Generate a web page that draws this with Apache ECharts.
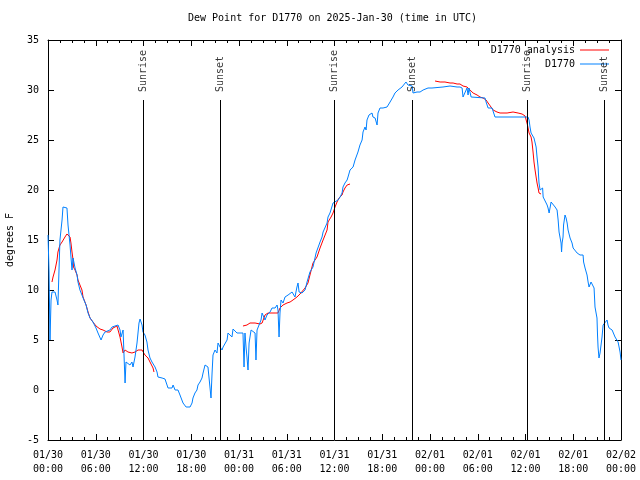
<!DOCTYPE html>
<html><head><meta charset="utf-8">
<script src="https://cdn.jsdelivr.net/npm/echarts@6/dist/echarts.min.js"></script>
<style>html,body{margin:0;padding:0;background:#fff}#c{width:640px;height:480px}</style>
</head><body><div id="c"></div>
<script>
// time axis in minutes since 2025-01-30 00:00 UTC
const xTickLabels = ['01/30\n00:00','01/30\n06:00','01/30\n12:00','01/30\n18:00','01/31\n00:00','01/31\n06:00','01/31\n12:00','01/31\n18:00','02/01\n00:00','02/01\n06:00','02/01\n12:00','02/01\n18:00','02/02\n00:00'];
const sunEvents = [[716,'Sunrise'],[1297,'Sunset'],[2156,'Sunrise'],[2745,'Sunset'],[3612,'Sunrise'],[4192,'Sunset']];

// D1770 observed dew point [minute, degF]
const obsDay1 = [[0,15.5],[8,11.8],[15,5.0],[23,9.0],[30,9.8],[53,9.8],[68,9.0],[75,8.5],[83,12.0],[90,15.0],[106,17.0],[113,18.3],[128,18.5],[143,18.2],[151,16.5],[166,14.5],[181,12.0],[189,13.2],[204,12.2],[219,11.5],[226,10.8],[241,10.0],[256,9.5],[271,9.0],[287,8.5],[302,7.7],[317,7.2],[339,6.8],[362,6.2],[377,5.7],[392,5.8],[400,5.0],[415,5.5],[430,5.8],[445,5.8],[467,6.0],[483,6.3],[505,6.4],[528,6.5],[543,6.0],[550,5.3],[566,6.0],[581,0.7],[588,2.8],[603,2.7],[618,2.5],[633,2.8],[641,2.3],[656,3.3],[671,4.7],[686,6.7],[694,7.1],[709,6.5],[716,5.8],[731,5.5],[746,4.8],[754,4.0],[769,3.2],[784,2.8],[792,3.0],[807,2.3],[822,1.8],[829,1.3],[844,1.2],[860,1.2],[882,1.1],[897,1.0],[905,0.2],[935,0.2],[943,0.5],[958,0.0],[980,0.0],[995,-0.5],[1018,-1.3],[1041,-1.7],[1056,-1.8],[1071,-1.7],[1086,-1.3],[1093,-0.8],[1108,-0.3],[1123,0.0],[1131,0.5],[1146,0.8],[1161,1.2],[1169,1.7],[1184,2.5],[1199,2.7],[1206,2.3],[1221,0.3],[1229,-0.8],[1237,1.7],[1244,3.5],[1259,4.0],[1274,3.7],[1282,4.7],[1297,4.3],[1312,4.0],[1320,4.3],[1335,4.5],[1350,5.0],[1357,5.7],[1372,5.8],[1387,5.3],[1395,6.1],[1410,6.2],[1425,5.7]];
const obsDay2 = [[1448,5.7],[1470,5.7],[1474,4.0],[1478,2.3],[1485,5.7],[1493,4.3],[1500,3.3],[1508,2.0],[1516,4.7],[1531,6.0],[1546,6.1],[1561,5.7],[1568,3.0],[1576,6.0],[1591,6.2],[1606,7.0],[1614,7.7],[1621,7.5],[1636,7.0],[1651,7.5],[1659,7.7],[1674,7.8],[1689,8.2],[1697,8.3],[1712,8.2],[1727,8.5],[1734,8.0],[1742,5.3],[1749,7.7],[1757,9.0],[1772,8.7],[1787,9.3],[1802,9.2],[1810,9.5],[1825,9.3],[1840,9.8],[1847,9.7],[1862,9.3],[1877,10.3],[1885,10.7],[1893,9.8],[1915,9.7],[1938,10.0],[1953,10.8],[1975,11.8],[1998,12.3],[2021,13.7],[2036,13.8],[2051,14.8],[2066,15.3],[2074,15.8],[2089,16.0],[2104,16.7],[2111,17.3],[2126,17.7],[2149,18.7],[2164,18.8],[2187,19.0],[2202,19.3],[2217,19.7],[2224,20.3],[2239,20.7],[2255,21.0],[2262,21.3],[2277,22.0],[2300,22.3],[2315,23.0],[2337,23.8],[2352,24.5],[2368,25.0],[2375,25.8],[2390,26.3],[2398,26.0],[2405,27.0],[2420,27.5],[2443,27.7],[2450,27.3],[2466,27.2],[2481,26.5],[2488,27.7],[2503,28.2],[2518,28.0],[2526,28.2],[2556,28.3],[2564,28.5],[2579,28.8],[2594,29.0],[2601,29.3],[2616,29.7],[2631,29.8],[2639,30.0],[2654,30.2],[2669,30.3],[2677,30.5],[2699,30.8],[2707,30.7],[2714,30.5],[2729,30.3],[2745,30.4],[2752,29.7],[2767,29.5],[2782,29.8],[2805,29.8],[2828,30.0]];
const obsDay3 = [[2865,30.2],[2895,30.2],[2903,30.3],[2978,30.3],[3031,30.4],[3084,30.3],[3106,30.3],[3122,30.2],[3129,29.3],[3144,29.3],[3159,30.2],[3167,29.5],[3174,30.2],[3190,29.3],[3205,29.2],[3295,29.2],[3303,28.8],[3310,28.7],[3318,28.2],[3348,28.2],[3356,28.0],[3370,27.3],[3619,27.3],[3627,27.0],[3634,26.3],[3642,25.7],[3657,25.5],[3664,25.2],[3672,25.0],[3680,24.3],[3687,23.3],[3695,22.3],[3699,21.3],[3702,20.7],[3710,20.0],[3725,19.8],[3729,20.2],[3733,19.3],[3748,19.2],[3763,18.5],[3770,18.2],[3778,17.7],[3793,18.8],[3808,18.6],[3823,18.3],[3838,18.0],[3846,17.0],[3853,15.8],[3868,14.7],[3872,13.8],[3876,14.7],[3883,15.3],[3887,16.5],[3898,17.5],[3906,17.2],[3914,16.7],[3921,16.0],[3936,15.2],[3951,14.7],[3959,14.2],[3974,14.0],[3989,13.7],[3996,13.5],[4011,13.5],[4026,13.7],[4034,13.5],[4038,12.8],[4049,12.2],[4064,11.5],[4072,10.8],[4079,10.3],[4094,10.8],[4102,11.0],[4109,11.0],[4117,10.2],[4124,8.3],[4139,7.2],[4143,5.5],[4147,4.3],[4154,3.2],[4162,3.7],[4170,3.5],[4177,5.3],[4185,6.5],[4200,6.7],[4215,7.0],[4222,6.5],[4230,6.2],[4253,6.0],[4260,5.8],[4275,5.3],[4290,5.2],[4298,4.8],[4313,3.8],[4320,3.0]];

// D1770 analysis segments [minute, degF]
const anaSeg1 = [[30,10.8],[38,11.3],[53,12.0],[68,13.0],[75,13.8],[90,14.5],[106,14.8],[113,15.0],[128,15.3],[143,15.6],[151,15.7],[166,15.3],[173,14.7],[181,13.8],[189,13.0],[192,12.3],[204,12.0],[219,11.5],[226,11.0],[241,10.5],[256,10.0],[264,9.3],[287,8.5],[302,7.8],[317,7.2],[339,6.8],[362,6.4],[392,6.1],[415,6.0],[445,5.8],[467,5.8],[490,6.2],[520,6.4],[528,6.2],[543,5.3],[558,4.3],[566,3.7],[581,4.0],[603,3.8],[633,3.7],[656,3.8],[679,4.0],[709,4.0],[716,3.8],[731,3.5],[754,3.2],[769,2.8],[784,2.7],[792,2.2],[799,1.8]];
const anaSeg2 = [[1470,6.4],[1500,6.5],[1523,6.7],[1561,6.7],[1598,6.6],[1614,6.7],[1636,7.5],[1659,7.7],[1689,7.7],[1712,7.7],[1734,7.7],[1749,8.2],[1772,8.5],[1802,8.7],[1825,8.8],[1847,9.0],[1877,9.3],[1900,9.6],[1915,9.7],[1938,10.2],[1960,10.7],[1975,11.5],[1998,12.7],[2028,13.3],[2051,14.2],[2074,15.0],[2089,15.5],[2104,16.0],[2111,16.8],[2134,17.3],[2149,17.7],[2164,18.3],[2179,18.8],[2194,19.2],[2217,19.5],[2224,19.8],[2239,20.2],[2255,20.5],[2262,20.6],[2277,20.6]];
const anaSeg3 = [[2918,30.9],[2956,30.8],[2993,30.8],[3031,30.7],[3054,30.7],[3084,30.6],[3106,30.6],[3129,30.4],[3159,30.3],[3167,30.3],[3182,30.0],[3205,29.7],[3235,29.5],[3257,29.3],[3280,29.2],[3303,29.0],[3318,28.7],[3340,28.3],[3356,28.0],[3385,27.8],[3408,27.7],[3461,27.7],[3506,27.8],[3544,27.7],[3574,27.6],[3597,27.4],[3612,27.2],[3615,26.5],[3627,25.7],[3642,25.3],[3649,24.8],[3657,23.8],[3664,22.8],[3672,22.0],[3680,21.3],[3687,20.7],[3695,20.2],[3702,19.7],[3717,19.6]];

const FONT = 'DejaVu Sans Mono';
const obsData = obsDay1.concat(obsDay2, obsDay3);
const anaData = anaSeg1.concat([[1000, null]], anaSeg2, [[2600, null]], anaSeg3);

const chart = echarts.init(document.getElementById('c'), null, {renderer: 'canvas'});
const baseX = {
  type: 'value', min: 0, max: 4320, interval: 360,
  axisLine: {onZero: false, lineStyle: {color: '#000', width: 1}},
  axisTick: {inside: true, length: 6, lineStyle: {color: '#000'}},
  minorTick: {show: true, splitNumber: 4, length: 3, lineStyle: {color: '#000'}},
  splitLine: {show: false}
};
const baseY = {
  type: 'value', min: -5, max: 35, interval: 5,
  axisLine: {show: true, onZero: false, lineStyle: {color: '#000', width: 1}},
  axisTick: {show: true, inside: true, length: 6, lineStyle: {color: '#000'}},
  splitLine: {show: false}
};
const txt = {fontFamily: FONT, fontSize: 10, color: '#000'};
const legendBase = {right: 31, padding: 0, align: 'right', icon: 'rect', itemWidth: 29, itemHeight: 1, textStyle: txt};
chart.setOption({
  animation: false,
  backgroundColor: '#fff',
  title: {text: 'Dew Point for D1770 on 2025-Jan-30 (time in UTC)', left: 188, top: 13, padding: 0,
    textStyle: {fontFamily: FONT, fontSize: 10, fontWeight: 'normal', color: '#000'}},
  grid: {left: 48, right: 19, top: 40, bottom: 40, containLabel: false, outerBoundsMode: 'none'},
  legend: [
    Object.assign({}, legendBase, {data: ['D1770 analysis'], top: 45}),
    Object.assign({}, legendBase, {data: ['D1770'], top: 59})
  ],
  xAxis: [
    Object.assign({}, baseX, {position: 'bottom',
      axisLabel: Object.assign({}, txt, {margin: 8, lineHeight: 14, formatter: v => xTickLabels[Math.round(v / 360)]})}),
    Object.assign({}, baseX, {position: 'top', axisLabel: {show: false}})
  ],
  yAxis: [
    Object.assign({}, baseY, {position: 'left', name: 'degrees F', nameLocation: 'middle', nameGap: 33, nameRotate: 90,
      nameTextStyle: txt, axisLabel: Object.assign({}, txt, {margin: 9})}),
    Object.assign({}, baseY, {position: 'right', axisLabel: {show: false}})
  ],
  series: [
    {name: 'D1770 analysis', type: 'line', data: anaData, symbol: 'none', showSymbol: false, connectNulls: false,
      lineStyle: {color: '#ff0000', width: 1}, itemStyle: {color: '#ff0000'}, z: 3},
    {name: 'D1770', type: 'line', data: obsData, symbol: 'none', showSymbol: false,
      lineStyle: {color: '#0080ff', width: 1}, itemStyle: {color: '#0080ff'}, z: 4},
    {name: 'sun', type: 'scatter', data: sunEvents.map(e => [e[0], 29.8, e[1]]), symbolSize: 0, silent: true, z: 5,
      label: {show: true, position: 'inside', rotate: 90, align: 'left', verticalAlign: 'middle',
        formatter: p => p.data[2], fontFamily: FONT, fontSize: 10, color: '#000'},
      markLine: {silent: true, symbol: ['none', 'none'], label: {show: false},
        lineStyle: {color: '#000', width: 1, type: 'solid'},
        data: sunEvents.map(e => [{coord: [e[0], -5]}, {coord: [e[0], 29]}])}}
  ]
});
</script>
</body></html>
